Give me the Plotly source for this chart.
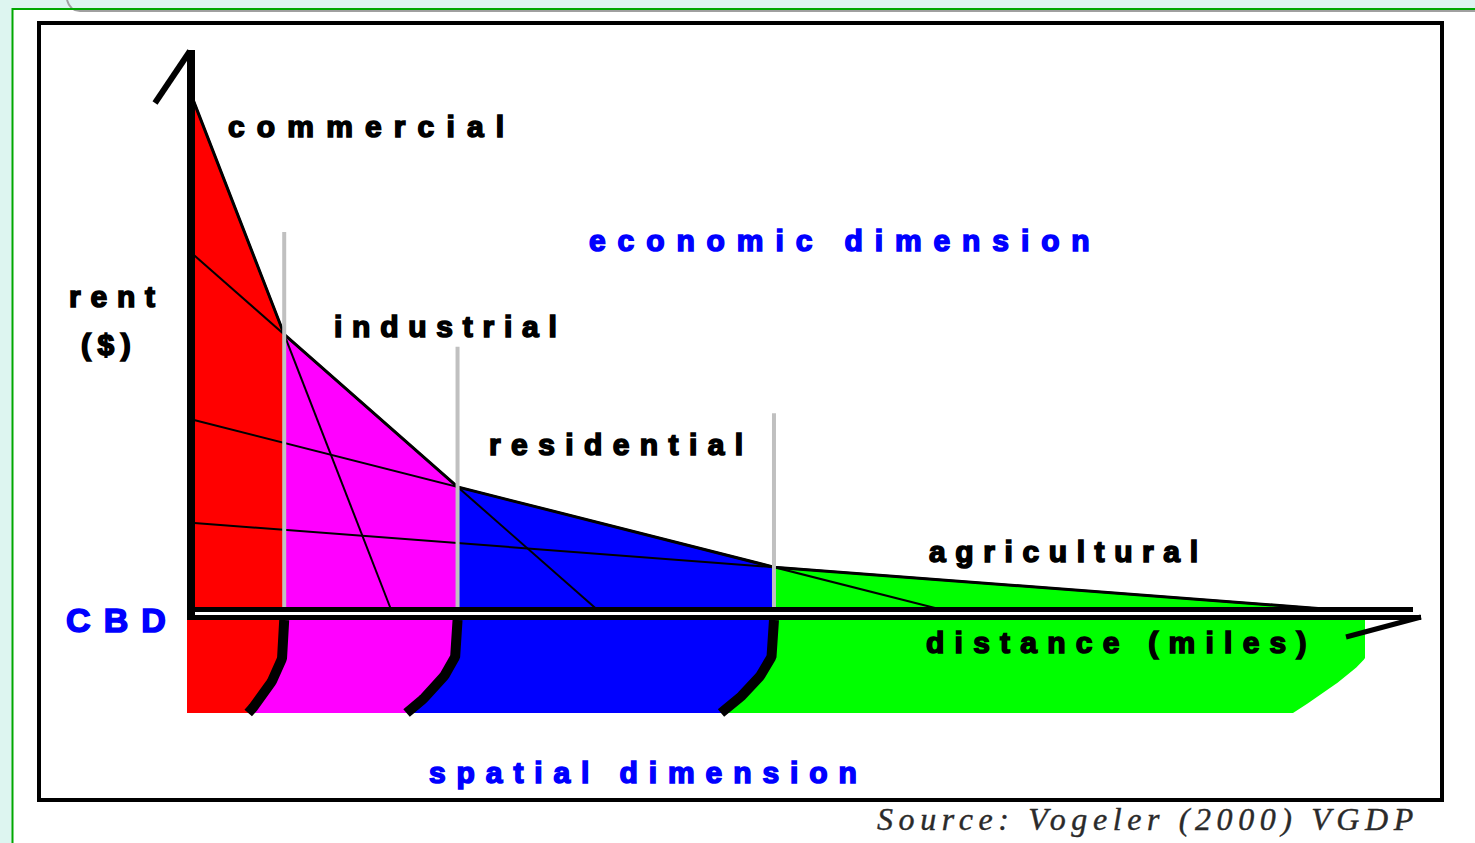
import numpy as np
import plotly.graph_objects as go

# ---------------- data ----------------
land_uses = ["commercial", "industrial", "residential", "agricultural"]
rent_at_cbd = [101.0, 70.0, 37.3, 17.0]      # bid rent at the CBD ($)
rent_reach = [2.0, 4.06, 7.5, 11.4]          # distance where each bid rent falls to 0 (miles)
guide_top = [74.0, 51.5, 38.5]               # top of the grey zone-boundary guides ($)
ring_outer_edge = 11.74                      # outer edge of the agricultural ring (miles)
zone_colors = ["#ff0000", "#ff00ff", "#0000ff", "#00ff00"]

y_axis_title = ["rent", "($)"]
x_axis_title = "distance (miles)"
origin_label = "CBD"
dimension_labels = ["economic dimension", "spatial dimension"]
source_text = "Source: Vogeler (2000) VGDP"

# ---------------- layout constants (pixel frame of the page) ----------------
W, H = 1475, 843
OX, OY = 191.0, 609.5          # pixel position of the origin (CBD, $0)
PXM, PXD = 100.0, 5.1          # pixels per mile, pixels per dollar


def X(px):
    return (np.asarray(px, dtype=float) - OX) / PXM


def Y(py):
    return (OY - np.asarray(py, dtype=float)) / PXD


def fx(px):
    return float(X(px))


def fy(py):
    return float(Y(py))


slopes = [a / r for a, r in zip(rent_at_cbd, rent_reach)]


def bid(i, d):
    return rent_at_cbd[i] - slopes[i] * d


bounds = [(rent_at_cbd[i] - rent_at_cbd[i + 1]) / (slopes[i] - slopes[i + 1]) for i in range(3)]
edges = [0.0] + bounds + [rent_reach[3]]

fig = go.Figure()


def add_line(xs, ys, color="#000000", width=2.0):
    fig.add_trace(go.Scatter(x=list(xs), y=list(ys), mode="lines",
                             line=dict(color=color, width=width),
                             hoverinfo="skip", showlegend=False))


def add_fill(xs, ys, color):
    fig.add_trace(go.Scatter(x=list(xs), y=list(ys), mode="lines", fill="toself",
                             fillcolor=color, line=dict(width=0, color=color),
                             hoverinfo="skip", showlegend=False))


# ---- economic dimension: bid-rent zones ----
for i in range(4):
    lo, hi = edges[i], edges[i + 1]
    add_fill([lo, hi, hi, lo, lo], [bid(i, lo), bid(i, hi), 0, 0, bid(i, lo)], zone_colors[i])

for i in range(4):
    add_line([0, rent_reach[i]], [rent_at_cbd[i], 0], width=2)

env_x = edges
env_y = [bid(0, 0)] + [bid(i, bounds[i]) for i in range(3)] + [0]
add_line(env_x, env_y, width=3)

for b, top in zip(bounds, guide_top):
    add_line([b, b], [top, 0], color="#c0c0c0", width=4)

# ---- spatial dimension: rings ----
BAND_TOP, BAND_BOT = 620.0, 713.0
ring_shift_px = [36, 51, 53]


def ring_curve(x_top, shift_px, start_py, power, n=50):
    py = np.linspace(BAND_TOP, BAND_BOT, n)
    t = np.clip((py - start_py) / (BAND_BOT - start_py), 0, 1)
    return x_top - shift_px * t ** power / PXM, Y(py)


curves = [(np.full(50, fx(187)), Y(np.linspace(BAND_TOP, BAND_BOT, 50)))]
for b, s in zip(bounds, ring_shift_px):
    curves.append(ring_curve(b, s, 645, 1.7))
curves.append(ring_curve(ring_outer_edge, 72, 658, 1.2))

for i in range(4):
    ix, iy = curves[i]
    ox_, oy_ = curves[i + 1]
    add_fill(np.concatenate([ox_, ix[::-1], ox_[:1]]),
             np.concatenate([oy_, iy[::-1], oy_[:1]]), zone_colors[i])
for k in range(1, 4):
    add_line(curves[k][0], curves[k][1], width=10)

# ---- axes ----
add_line([0, 0], [fy(50), fy(620)], width=8)
add_line([fx(190), fx(155)], [fy(51), fy(103)], width=6)
add_line([fx(187), fx(1413)], [0, 0], width=5)
add_line([fx(187), fx(1421)], [fy(617.5), fy(617.5)], width=5)
add_line([fx(1421), fx(1346)], [fy(617), fy(637)], width=5)

# ---- text ----
label_texts = ["commercial", dimension_labels[0], y_axis_title[0], y_axis_title[1],
               "industrial", "residential", "agricultural", origin_label,
               x_axis_title, dimension_labels[1]]
label_left = [227, 588, 68, 80, 333, 488, 928, 65, 925, 428]
label_base = [137, 251, 307, 355, 337, 455, 562, 632, 653, 783]
label_size = [30, 30, 30, 30, 30, 30, 30, 34, 30, 30]
label_color = ["#000000", "#0000ff", "#000000", "#000000", "#000000", "#000000",
               "#000000", "#0000ff", "#000000", "#0000ff"]
label_spacing = [12.15, 11.9, 9.8, 6.6, 9.75, 10.4, 9.6, 13.1, 10.25, 10.9]

annotations = []


def add_text(text, left, base, size, color, spacing, family, italic=False, bold=True,
             stroke=0.0, asc=0.905, desc=0.212):
    center = base - (asc - desc) / 2 * size
    style = f"letter-spacing:{spacing}px"
    if stroke:
        style += f";stroke:{color};stroke-width:{stroke}px"
    annotations.append(dict(
        x=fx(left), y=fy(center), xref="x", yref="y", xanchor="left", yanchor="middle",
        showarrow=False, borderpad=0,
        text=f'<span style="{style}">{text}</span>',
        font=dict(family=family, size=size, color=color,
                  weight="bold" if bold else "normal",
                  style="italic" if italic else "normal")))


for t, l, b, s, c, sp in zip(label_texts, label_left, label_base, label_size,
                             label_color, label_spacing):
    add_text(t, l, b, s, c, sp, "Liberation Sans", stroke=1.6)

add_text(source_text, 876, 830, 32, "#2a2a2a", 5.6, "Liberation Serif", italic=True,
         bold=False, stroke=0.4, asc=0.891, desc=0.216)

# ---- page decoration (paper coords) ----
def px_(v):
    return v / W


def py_(v):
    return 1 - v / H


shapes = [
    dict(type="rect", xref="paper", yref="paper", x0=0, x1=1, y0=py_(9), y1=1,
         fillcolor="#ddf5f0", line=dict(width=0), layer="below"),
    dict(type="rect", xref="paper", yref="paper", x0=0, x1=px_(12), y0=0, y1=1,
         fillcolor="#ddf5f0", line=dict(width=0), layer="below"),
    dict(type="line", xref="paper", yref="paper", x0=px_(80), x1=1, y0=py_(11), y1=py_(11),
         line=dict(color="#a0a0a0", width=2)),
    dict(type="path", xref="paper", yref="paper",
         path=f"M {px_(67)},{py_(0)} Q {px_(70)},{py_(11)} {px_(80)},{py_(11)}",
         line=dict(color="#a0a0a0", width=2)),
    dict(type="line", xref="paper", yref="paper", x0=px_(12), x1=1, y0=py_(9), y1=py_(9),
         line=dict(color="#00a800", width=2)),
    dict(type="line", xref="paper", yref="paper", x0=px_(12.5), x1=px_(12.5), y0=0, y1=py_(8),
         line=dict(color="#00a800", width=2)),
    dict(type="rect", xref="paper", yref="paper", x0=px_(39), x1=px_(1442),
         y0=py_(800), y1=py_(23), line=dict(color="#000000", width=4)),
]

fig.update_layout(
    width=W, height=H,
    margin=dict(l=0, r=0, t=0, b=0, pad=0),
    paper_bgcolor="#ffffff", plot_bgcolor="rgba(0,0,0,0)",
    xaxis=dict(range=[fx(0), fx(W)], visible=False, fixedrange=True),
    yaxis=dict(range=[fy(H), fy(0)], visible=False, fixedrange=True),
    showlegend=False, hovermode=False,
    annotations=annotations, shapes=shapes,
)

fig.write_html("out.html", config={"displayModeBar": False},
               post_script="document.body.style.margin='0';document.body.style.overflow='hidden';")
